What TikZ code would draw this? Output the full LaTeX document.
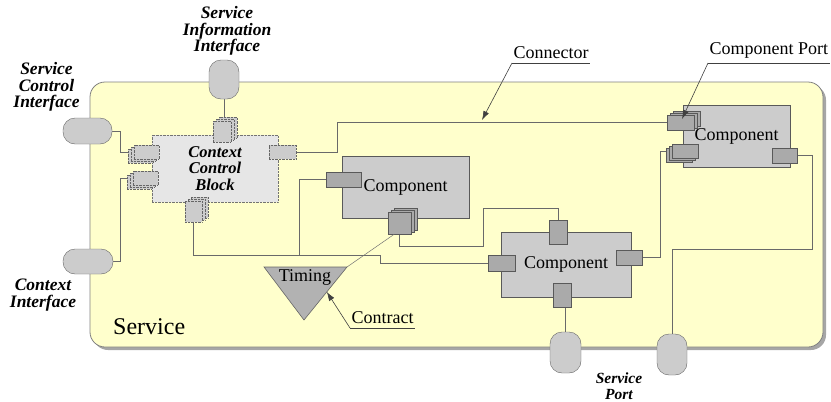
\documentclass[tikz,border=0pt]{standalone}
\usepackage{fontspec}
\setmainfont{Liberation Serif}
\definecolor{svcyellow}{RGB}{255,255,204}
\definecolor{compgray}{RGB}{204,204,204}
\definecolor{portgray}{RGB}{170,170,170}
\definecolor{ccbgray}{RGB}{230,230,230}
\definecolor{wiregray}{RGB}{105,105,105}
\usetikzlibrary{calc}
\usetikzlibrary{positioning}
\usetikzlibrary{shadows,backgrounds,arrows.meta}
\tikzset{
  lbl/.style={font=\fontsize{18}{18}\selectfont, inner sep=0pt},
  iflbl/.style={font=\fontsize{17.5}{16.5}\selectfont\bfseries\itshape, align=center, inner sep=0pt},
  comp/.style={fill=compgray, draw=black!65, inner sep=0pt, font=\fontsize{18}{18}\selectfont},
  cport/.style={fill=portgray, draw=black!65, inner sep=0pt},
  ccbport/.style={fill=compgray, draw=black!60, densely dotted, inner sep=0pt},
  capsule/.style={fill=compgray, draw=black!60, inner sep=0pt, rounded corners=12pt},
  stackur/.style={copy shadow={shadow xshift=6pt, shadow yshift=4pt}, copy shadow={shadow xshift=3pt, shadow yshift=2pt}},
  stackdl/.style={copy shadow={shadow xshift=-6pt, shadow yshift=-4pt}, copy shadow={shadow xshift=-3pt, shadow yshift=-2pt}},
  wire/.style={draw=wiregray, line width=0.8pt},
  note/.style={draw=black!75, line width=0.6pt},
  ulbl/.style={lbl, anchor=south west, inner xsep=1.5pt, inner ysep=4.5pt}
}

\begin{document}
\begin{tikzpicture}[x=1pt, y=-1pt]
  \useasboundingbox (0,0) rectangle (831,402);

  % context control block and its ports
  \node[fill=ccbgray, draw=black!55, densely dotted, minimum width=126pt, minimum height=67pt, inner sep=0pt,
        font=\fontsize{16.5}{16.5}\selectfont\bfseries\itshape, align=center] (ccb) at (215,168.5) {Context\\Control\\Block};
  \node[ccbport, stackur, minimum width=18pt, minimum height=21pt] (ccbt) at (222,131.5) {};
  \node[ccbport, stackdl, minimum width=25pt, minimum height=14pt] (ccbl1) at (146.5,152) {};
  \node[ccbport, stackdl, minimum width=25pt, minimum height=14pt] (ccbl2) at (145.5,178) {};
  \node[ccbport, minimum width=27pt, minimum height=14pt] (ccbr) at (282.5,152) {};
  \node[ccbport, stackur, minimum width=17pt, minimum height=21pt] (ccbb) at (193.5,211.5) {};

  % components
  \node[comp, minimum width=127pt, minimum height=62pt] (c1) at (405.5,187) {Component};
  \node[comp, minimum width=130pt, minimum height=65pt] (c2) at (566,264.5) {Component};
  \node[comp, minimum width=107pt, minimum height=62pt] (c3) at (736.5,136) {Component};

  \node[cport, minimum width=35pt, minimum height=15pt] (c1l) at (343.5,179.5) {};
  \node[cport, stackur, minimum width=23pt, minimum height=22pt] (c1b) at (399.5,223) {};
  \node[cport, minimum width=18pt, minimum height=24pt] (c2t) at (558,232) {};
  \node[cport, minimum width=27pt, minimum height=16pt] (c2l) at (501.5,263) {};
  \node[cport, minimum width=26pt, minimum height=15pt] (c2r) at (629,257.5) {};
  \node[cport, minimum width=18pt, minimum height=24pt] (c2b) at (562,295) {};
  \node[cport, stackur, minimum width=27pt, minimum height=15pt] (c3p1) at (680.5,122.5) {};
  \node[cport, stackdl, minimum width=26pt, minimum height=14pt] (c3p2) at (685,151) {};
  \node[cport, minimum width=25pt, minimum height=15pt] (c3r) at (784.5,155.5) {};

  % service interfaces
  \node[capsule, minimum width=49pt, minimum height=26pt] (sci) at (87.5,131) {};
  \node[capsule, minimum width=50pt, minimum height=25pt] (ci) at (88,261.5) {};
  \node[capsule, minimum width=30pt, minimum height=39pt] (sii) at (224,79.5) {};
  \node[capsule, minimum width=31pt, minimum height=41pt] (sp1) at (565.5,352.5) {};
  \node[capsule, minimum width=30pt, minimum height=41pt] (sp2) at (672,354.5) {};

  % timing contract
  \coordinate (tml) at (264,267);
  \coordinate (tmr) at (347,267);
  \coordinate (tmb) at (304,320);
  \draw[fill=black!30, draw=black!60, line width=0.6pt] (tml) -- (tmr) -- (tmb) -- cycle;
  \node[lbl] (timing) at (305,277) {Timing};
  \draw[draw=black!55, line width=0.5pt] (c1b.-115) -- (tmr);

  \begin{scope}[on background layer]
    \node[fill=svcyellow, draw=black!50, line width=0.8pt, rounded corners=15pt, minimum width=733pt, minimum height=265pt,
          drop shadow={shadow xshift=3pt, shadow yshift=-3pt, fill=black!35, opacity=1}] (svc) at (456.5,214.5) {};
    \coordinate (bend1) at (380,255);
    \coordinate (bend2) at (483,246);
    \coordinate (bend3) at (483,208);
    \coordinate (bend4) at (812,249);

    \draw[wire] (sci.east) -- ++(8,0) |- (ccbl1.west);
    \draw[wire] (ci.east) -- ++(7,0) |- (ccbl2.west);
    \draw[wire] (sii.south) -- (sii.south |- ccbt.north);
    \draw[wire] (ccbr.east) -- ++(41,0) |- (c3p1.west);
    \draw[wire] (ccbb.south) |- (bend1) |- (c2l.west);
    \draw[wire] (c1l.west) -- ++(-26,0) |- (bend1);
    \draw[wire] (c1b.south) |- (bend2) -- (bend3) -| (c2t.north);
    \draw[wire] (c2r.east) -- ++(18,0) |- (c3p2.west);
    \draw[wire] (c3r.east) -| (bend4) -| (sp2.north);
    \draw[wire] (sp1.north) -- (sp1.north |- c2b.south);
  \end{scope}

  % labels
  \node[iflbl] (scilbl) at (46.5,87) {Service\\Control\\Interface};
  \node[iflbl] (siilbl) at (227,31) {Service\\Information\\Interface};
  \node[iflbl] (cilbl) at (43,295) {Context\\Interface};
  \node[iflbl, font=\fontsize{15.5}{15.5}\selectfont\bfseries\itshape] (splbl) at (619,386) {Service\\Port};
  \node[lbl, font=\fontsize{24}{24}\selectfont, anchor=west] (svclbl) at (113,327) {Service};

  % annotations
  \coordinate (contip) at (482,120);
  \coordinate (cptip) at (682,119);
  \node[ulbl] (conlbl) at (512,63) {Connector};
  \node[ulbl] (cplbl) at (708,63) {Component Port};
  \node[ulbl] (ctlbl) at (350,328) {Contract};
  \draw[note] (conlbl.south west) -- (conlbl.south east);
  \draw[note] (cplbl.south west) -- (cplbl.south east);
  \draw[note] (ctlbl.south west) -- (ctlbl.south east);
  \draw[note, -{Latex[length=9pt, width=6pt]}] (conlbl.south west) -- (contip);
  \draw[note, -{Latex[length=9pt, width=6pt]}] (cplbl.south west) -- (cptip);
  \draw[note, -{Latex[length=9pt, width=6pt]}] (ctlbl.south west) -- ($(tmr)!0.47!(tmb)$);
\end{tikzpicture}
\end{document}
